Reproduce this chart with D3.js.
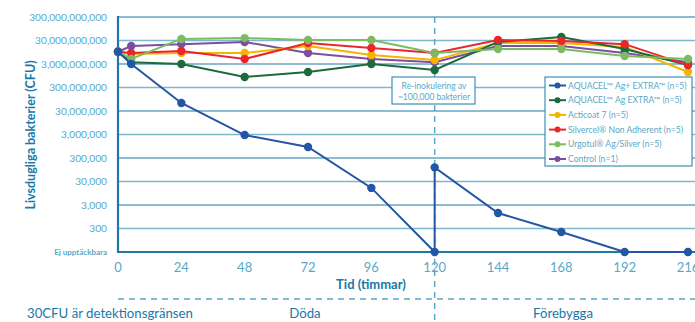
<!DOCTYPE html>
<html>
<head>
<meta charset="utf-8">
<script src="https://cdn.jsdelivr.net/npm/d3@7"></script>
<style>
  body { margin: 0; background: #fff; }
  svg { display: block; font-family: Lato, "Open Sans", sans-serif; }
</style>
</head>
<body>
<div class="chart"></div>
<script>
// time points (hours); 120 appears twice for the blue series (before / after re-inoculation)
var hours = [0, 5, 24, 48, 72, 96, 120, 144, 168, 192, 216];
var blueHours = [0, 5, 24, 48, 72, 96, 120, 120, 144, 168, 192, 216];

var seriesNames = [
    "AQUACEL\u2122 Ag+ EXTRA\u2122 (n=5)",
    "AQUACEL\u2122 Ag EXTRA\u2122 (n=5)",
    "Acticoat 7 (n=5)",
    "Silvercel\u00ae Non Adherent (n=5)",
    "Urgotul\u00ae Ag/Silver (n=5)",
    "Control (n=1)"
];
var seriesColors = ["#2356a6", "#1b6b3b", "#f6b400", "#e8272d", "#7dbb62", "#7b4f9f"];

// CFU (30 = not detectable)
var aquacelPlus = [1e10, 3.0e9, 6.6e7, 2.85e6, 8.8e5, 1.6e4, 30, 1.2e5, 1.37e3, 214, 30, 30];
var aquacelAg   = [1e10, 3.6e9, 3.0e9, 8.4e8, 1.37e9, 3.0e9, 1.67e9, 2.6e10, 4.2e10, 1.3e10, 2.7e9];
var acticoat    = [1e10, 8.0e9, 8.8e9, 8.8e9, 1.75e10, 7.2e9, 4.4e9, 2.35e10, 2.35e10, 1.6e10, 1.37e9];
var silvercel   = [1e10, 8.8e9, 1.07e10, 4.9e9, 2.35e10, 1.44e10, 8.8e9, 3.15e10, 2.86e10, 2.1e10, 2.7e9];
var urgotul     = [1e10, 4.9e9, 3.5e10, 3.8e10, 3.15e10, 3.15e10, 8.8e9, 1.3e10, 1.3e10, 6.6e9, 4.9e9];
var control     = [1e10, 1.75e10, 2.1e10, 2.6e10, 8.8e9, 4.9e9, 3.6e9, 1.75e10, 1.75e10, 8.8e9, 3.6e9];

var yTicks = [30, 300, 3000, 3e4, 3e5, 3e6, 3e7, 3e8, 3e9, 3e10, 3e11];
var xTicks = [0, 24, 48, 72, 96, 120, 144, 168, 192, 216];

var width = 695, height = 322;
var x = d3.scaleLinear().domain([0, 216]).range([118, 688]);
var y = d3.scaleLog().domain([30, 3e11]).range([252, 17]);

var svg = d3.select(".chart").append("svg").attr("width", width).attr("height", height);

var tickColor = "#5aa8c6", titleColor = "#1878a8", lightGrid = "#7fb8cc", darkGrid = "#1f78a3";

// grid lines
yTicks.slice(1).forEach(function (t, i) {
    svg.append("line").attr("x1", 118).attr("x2", 695).attr("y1", y(t)).attr("y2", y(t))
        .attr("stroke", i % 2 == 0 ? lightGrid : darkGrid).attr("stroke-width", i % 2 == 0 ? 1.6 : 1.2);
});

// y tick labels
yTicks.forEach(function (t) {
    svg.append("text").attr("x", 107).attr("y", y(t)).attr("dy", "0.35em")
        .attr("text-anchor", "end").attr("fill", tickColor)
        .attr("font-size", t == 30 ? 8 : 10.2)
        .attr("font-weight", t == 30 ? "bold" : "normal")
        .text(t == 30 ? "Ej upptäckbara" : d3.format(",")(t));
});

// x tick labels
xTicks.forEach(function (t) {
    svg.append("text").attr("x", x(t)).attr("y", 272).attr("text-anchor", "middle")
        .attr("fill", tickColor).attr("font-size", 13).text(t);
});

// axis titles
svg.append("text").attr("transform", "translate(35,135) rotate(-90)").attr("text-anchor", "middle")
    .attr("fill", titleColor).attr("font-size", 12.5).attr("font-weight", "bold")
    .text("Livsdugliga bakterier (CFU)");
svg.append("text").attr("x", 371).attr("y", 289).attr("text-anchor", "middle")
    .attr("fill", titleColor).attr("font-size", 13).attr("font-weight", "bold")
    .text("Tid (timmar)");

// dashed separators
svg.append("line").attr("x1", x(120)).attr("x2", x(120)).attr("y1", 17).attr("y2", 322)
    .attr("stroke", tickColor).attr("stroke-width", 1.5).attr("stroke-dasharray", "6,5");
svg.append("line").attr("x1", 118).attr("x2", 695).attr("y1", 299).attr("y2", 299)
    .attr("stroke", tickColor).attr("stroke-width", 1.5).attr("stroke-dasharray", "6,5");

// axes
svg.append("line").attr("x1", 118).attr("x2", 118).attr("y1", 16).attr("y2", 253)
    .attr("stroke", darkGrid).attr("stroke-width", 2.2);
svg.append("line").attr("x1", 117).attr("x2", 695).attr("y1", 252).attr("y2", 252)
    .attr("stroke", darkGrid).attr("stroke-width", 2.2);

// annotation box
svg.append("rect").attr("x", 392).attr("y", 77).attr("width", 83).attr("height", 27)
    .attr("fill", "#fff").attr("stroke", "#3a92b8").attr("stroke-width", 1.2);
svg.append("text").attr("x", 434).attr("y", 89).attr("text-anchor", "middle")
    .attr("fill", tickColor).attr("font-size", 8.5).text("Re-inokulering av");
svg.append("text").attr("x", 434).attr("y", 99.5).attr("text-anchor", "middle")
    .attr("fill", tickColor).attr("font-size", 8.5).text("~100,000 bakterier");

// bottom labels
svg.append("text").attr("x", 27).attr("y", 318).attr("fill", titleColor).attr("font-size", 13.2)
    .text("30CFU är detektionsgränsen");
svg.append("text").attr("x", 305).attr("y", 318).attr("text-anchor", "middle")
    .attr("fill", titleColor).attr("font-size", 13.2).text("Döda");
svg.append("text").attr("x", 563).attr("y", 318).attr("text-anchor", "middle")
    .attr("fill", titleColor).attr("font-size", 13.2).text("Förebygga");

// series
var allValues = [aquacelPlus, aquacelAg, acticoat, silvercel, urgotul, control];
var line = d3.line().x(function (d) { return x(d[0]); }).y(function (d) { return y(d[1]); });
var drawOrder = [5, 2, 1, 3, 4, 0];
drawOrder.forEach(function (k) {
    var hrs = k == 0 ? blueHours : hours;
    var pts = allValues[k].map(function (v, i) { return [hrs[i], v]; });
    var g = svg.append("g");
    g.append("path").attr("d", line(pts)).attr("fill", "none")
        .attr("stroke", seriesColors[k]).attr("stroke-width", 2);
    g.selectAll("circle").data(pts).enter().append("circle")
        .attr("cx", function (d) { return x(d[0]); }).attr("cy", function (d) { return y(d[1]); })
        .attr("r", 4.2).attr("fill", seriesColors[k]);
});

// legend
svg.append("rect").attr("x", 545).attr("y", 77).attr("width", 147).attr("height", 89)
    .attr("fill", "#fff").attr("stroke", "#3a92b8").attr("stroke-width", 1.2);
seriesNames.forEach(function (name, i) {
    var ly = 85.5 + i * 14.7;
    svg.append("line").attr("x1", 549).attr("x2", 566).attr("y1", ly).attr("y2", ly)
        .attr("stroke", seriesColors[i]).attr("stroke-width", 2);
    svg.append("circle").attr("cx", 557.5).attr("cy", ly).attr("r", 3).attr("fill", seriesColors[i]);
    svg.append("text").attr("x", 568).attr("y", ly).attr("dy", "0.35em")
        .attr("fill", tickColor).attr("font-size", 8.6).text(name);
});
</script>
</body>
</html>
